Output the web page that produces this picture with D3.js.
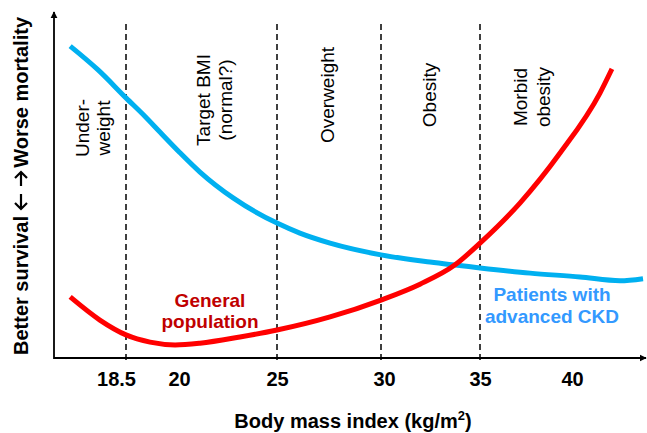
<!DOCTYPE html>
<html>
<head>
<meta charset="utf-8">
<script src="https://cdn.jsdelivr.net/npm/d3@7/dist/d3.min.js"></script>
<style>
  html, body { margin: 0; padding: 0; background: #fff; }
  svg { display: block; font-family: "Liberation Sans", Arial, Helvetica, sans-serif; }
</style>
</head>
<body>
<svg id="chart" width="647" height="433"></svg>
<script>
// ---------- data ----------
const bmiTicks = [18.5, 20, 25, 30, 35, 40];
const cutoffs = [18.5, 25, 30, 35];

const ckdBMI = [16.92, 17.71, 18.5, 19.04, 19.46, 20.05, 21.07, 22.76, 25, 26.1, 27.55, 30, 32.47, 35, 37.72, 40.43, 42.61, 43.86];
const ckdRisk = [90.4, 83.5, 75.4, 70.0, 65.5, 59.5, 53.9, 46.4, 39.1, 36.2, 33.3, 29.9, 27.8, 26.1, 24.6, 23.5, 22.4, 23.0];

const genBMI = [16.92, 17.76, 18.5, 19.18, 19.89, 21.07, 23.11, 25, 27.55, 30, 31.97, 33.74, 35, 37.17, 39.35, 41.52, 42.17];
const genRisk = [17.7, 11.0, 6.7, 4.6, 3.8, 4.3, 6.1, 8.1, 11.9, 16.8, 21.4, 27.0, 33.3, 44.9, 59.4, 76.8, 83.8];

const regionNames = [["Under-", "weight"], ["Target BMI", "(normal?)"], ["Overweight"], ["Obesity"], ["Morbid", "obesity"]];
const seriesNames = [["General", "population"], ["Patients with", "advanced CKD"]];
const xTitle = "Body mass index (kg/m";
const yTitleLow = "Better survival";
const yTitleHigh = "Worse mortality";

// ---------- layout ----------
const svg = d3.select("#chart");
const originX = 54, originY = 358, topY = 12, rightX = 646;

const x = d3.scaleLinear()
  .domain(bmiTicks)
  .range([126, 179, 277, 381, 480, 572]);
const y = d3.scaleLinear().domain([0, 100]).range([originY, 13]);

// dashed cut-off lines
svg.append("g").selectAll("line").data(cutoffs).join("line")
  .attr("x1", d => x(d)).attr("x2", d => x(d))
  .attr("y1", 24).attr("y2", originY + 6)
  .attr("stroke", "#000").attr("stroke-width", 1.5)
  .attr("stroke-dasharray", "6,4");

// x axis tick labels via d3.axisBottom
const xAxis = d3.axisBottom(x).tickValues(bmiTicks).tickSize(0).tickPadding(14)
  .tickFormat(d => String(d));
const gx = svg.append("g").attr("transform", `translate(0,${originY})`).call(xAxis);
gx.select(".domain").remove();
gx.selectAll("text")
  .attr("font-size", 20).attr("font-weight", "bold").attr("fill", "#000")
  .attr("font-family", "'Liberation Sans', Arial, sans-serif")
  .attr("dx", d => d === 18.5 ? -10 : (d === 30 ? 3 : 0));

// axis lines with arrows
const defs = svg.append("defs");
defs.append("marker").attr("id", "arr").attr("viewBox", "0 0 10 10")
  .attr("refX", 9).attr("refY", 5).attr("markerWidth", 4).attr("markerHeight", 4)
  .attr("orient", "auto")
  .append("path").attr("d", "M0,0 L10,5 L0,10 Z").attr("fill", "#000");

svg.append("line").attr("x1", originX).attr("y1", originY).attr("x2", rightX).attr("y2", originY)
  .attr("stroke", "#000").attr("stroke-width", 1.8).attr("marker-end", "url(#arr)");
svg.append("line").attr("x1", originX).attr("y1", originY + 0.9).attr("x2", originX).attr("y2", topY)
  .attr("stroke", "#000").attr("stroke-width", 1.8).attr("marker-end", "url(#arr)");

// curves
const line = d3.line().x(d => x(d[0])).y(d => y(d[1])).curve(d3.curveMonotoneX);
svg.append("path").datum(ckdBMI.map((b, i) => [b, ckdRisk[i]]))
  .attr("d", line).attr("fill", "none").attr("stroke", "#00B0F0")
  .attr("stroke-width", 5).attr("stroke-linecap", "butt");
svg.append("path").datum(genBMI.map((b, i) => [b, genRisk[i]]))
  .attr("d", line).attr("fill", "none").attr("stroke", "#FF0000")
  .attr("stroke-width", 5).attr("stroke-linecap", "butt");

// region labels (rotated)
const regionPos = [
  { cy: 128, bases: [88.5, 110] },
  { cy: 100, bases: [209.5, 232] },
  { cy: 95, bases: [333.5] },
  { cy: 95, bases: [435.5] },
  { cy: 97, bases: [526.5, 549.5] }
];
regionNames.forEach((lines, i) => {
  lines.forEach((t, j) => {
    const bx = regionPos[i].bases[j], cy = regionPos[i].cy;
    svg.append("text")
      .attr("transform", `translate(${bx},${cy}) rotate(-90)`)
      .attr("text-anchor", "middle").attr("font-size", 19).attr("fill", "#000")
      .text(t);
  });
});

// series annotations
const seriesPos = [
  { cx: 210, bases: [307, 328], color: "#C00000" },
  { cx: 552, bases: [301, 323], color: "#3399FF" }
];
seriesNames.forEach((lines, i) => {
  lines.forEach((t, j) => {
    svg.append("text")
      .attr("x", seriesPos[i].cx).attr("y", seriesPos[i].bases[j])
      .attr("text-anchor", "middle").attr("font-size", 19).attr("font-weight", "bold")
      .attr("fill", seriesPos[i].color).text(t);
  });
});

// axis titles
const xt = svg.append("text").attr("x", 353).attr("y", 428)
  .attr("text-anchor", "middle").attr("font-size", 20).attr("font-weight", "bold").attr("fill", "#000");
xt.append("tspan").text(xTitle);
xt.append("tspan").attr("font-size", 13).attr("dy", -8).text("2");
xt.append("tspan").attr("dy", 8).text(")");

// y title: two text parts + drawn arrows (rotated frame)
const yg = svg.append("g").attr("transform", "translate(28,0) rotate(-90)");
// in rotated frame: x' = -pageY, baseline at y'=0
yg.append("text").attr("x", -355).attr("y", 0).attr("text-anchor", "start")
  .attr("font-size", 20).attr("font-weight", "bold").attr("fill", "#000").text(yTitleLow);
yg.append("text").attr("x", -17).attr("y", 0).attr("text-anchor", "end")
  .attr("font-size", 20).attr("font-weight", "bold").attr("fill", "#000").text(yTitleHigh);
// arrows: left arrow (points down on page) spans page y 193-210; right arrow spans 173-186
const arrowY = -7;
yg.append("path")
  .attr("d", `M${-194},${arrowY} L${-209},${arrowY} M${-203},${arrowY - 6} L${-209},${arrowY} L${-203},${arrowY + 6}`)
  .attr("fill", "none").attr("stroke", "#000").attr("stroke-width", 2.2);
yg.append("path")
  .attr("d", `M${-186},${arrowY} L${-172},${arrowY} M${-178},${arrowY - 6} L${-172},${arrowY} L${-178},${arrowY + 6}`)
  .attr("fill", "none").attr("stroke", "#000").attr("stroke-width", 2.2);
</script>
</body>
</html>
